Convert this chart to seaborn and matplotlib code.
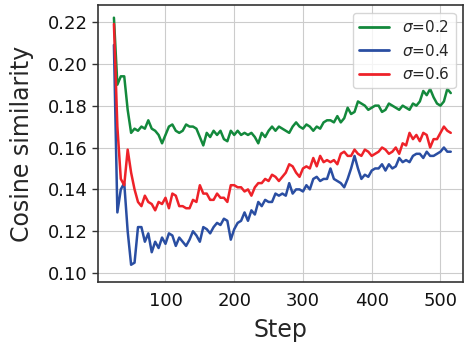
import numpy as np
import pandas as pd
import matplotlib
matplotlib.use("Agg")
import matplotlib.pyplot as plt
import seaborn as sns

steps = list(range(25, 520, 5))

sigma_02 = [0.222, 0.190, 0.194, 0.194, 0.178, 0.167, 0.169, 0.168, 0.170, 0.169, 0.173, 0.169, 0.168, 0.166, 0.162, 0.166, 0.170, 0.171, 0.168, 0.167, 0.168, 0.171, 0.170, 0.170, 0.169, 0.165,
            0.161, 0.167, 0.165, 0.168, 0.166, 0.168, 0.164, 0.163, 0.168, 0.166, 0.168, 0.166, 0.167, 0.166, 0.167, 0.165, 0.162, 0.167, 0.165, 0.168, 0.170, 0.168, 0.170, 0.169,
            0.168, 0.167, 0.170, 0.172, 0.170, 0.169, 0.171, 0.170, 0.168, 0.170, 0.169, 0.172, 0.173, 0.173, 0.172, 0.175, 0.172, 0.174, 0.179, 0.176, 0.177, 0.182, 0.181, 0.180,
            0.178, 0.179, 0.180, 0.180, 0.177, 0.178, 0.181, 0.180, 0.179, 0.178, 0.180, 0.179, 0.178, 0.181, 0.180, 0.182, 0.187, 0.185, 0.188, 0.184, 0.181, 0.180, 0.182, 0.188, 0.186]

sigma_04 = [0.209, 0.129, 0.140, 0.143, 0.120, 0.104, 0.105, 0.122, 0.122, 0.115, 0.119, 0.110, 0.115, 0.112, 0.117, 0.114, 0.119, 0.118, 0.113, 0.117, 0.115, 0.113, 0.116, 0.120, 0.118, 0.115,
            0.122, 0.121, 0.119, 0.122, 0.124, 0.123, 0.126, 0.125, 0.116, 0.121, 0.124, 0.125, 0.129, 0.125, 0.130, 0.128, 0.134, 0.132, 0.135, 0.134, 0.134, 0.138, 0.137, 0.138,
            0.137, 0.143, 0.138, 0.140, 0.140, 0.139, 0.142, 0.140, 0.145, 0.146, 0.144, 0.145, 0.145, 0.150, 0.145, 0.144, 0.143, 0.141, 0.145, 0.150, 0.156, 0.150, 0.145, 0.147,
            0.146, 0.149, 0.150, 0.150, 0.152, 0.149, 0.152, 0.150, 0.151, 0.155, 0.153, 0.154, 0.153, 0.156, 0.157, 0.157, 0.155, 0.158, 0.156, 0.156, 0.157, 0.158, 0.160, 0.158, 0.158]

sigma_06 = [0.219, 0.170, 0.145, 0.142, 0.159, 0.148, 0.140, 0.134, 0.132, 0.137, 0.134, 0.133, 0.130, 0.134, 0.133, 0.136, 0.131, 0.138, 0.137, 0.132, 0.132, 0.131, 0.131, 0.135, 0.134, 0.142,
            0.138, 0.138, 0.135, 0.135, 0.138, 0.136, 0.136, 0.134, 0.142, 0.142, 0.141, 0.141, 0.139, 0.140, 0.137, 0.141, 0.143, 0.143, 0.145, 0.144, 0.147, 0.146, 0.144, 0.146,
            0.148, 0.152, 0.151, 0.148, 0.146, 0.150, 0.151, 0.150, 0.155, 0.151, 0.156, 0.153, 0.154, 0.153, 0.154, 0.152, 0.157, 0.158, 0.156, 0.156, 0.159, 0.157, 0.156, 0.159,
            0.158, 0.156, 0.157, 0.158, 0.160, 0.159, 0.157, 0.158, 0.160, 0.157, 0.162, 0.161, 0.167, 0.164, 0.166, 0.163, 0.167, 0.166, 0.160, 0.164, 0.164, 0.167, 0.170, 0.168, 0.167]

labels = [r"$\sigma$=0.2", r"$\sigma$=0.4", r"$\sigma$=0.6"]
colors = ["#13893c", "#2a4ea2", "#ee2229"]

df = pd.concat([
    pd.DataFrame({"Step": steps, "value": vals, "sigma": lab})
    for vals, lab in zip([sigma_02, sigma_04, sigma_06], labels)
])

sns.set_style("whitegrid", {"grid.color": "#cccccc", "axes.edgecolor": "#333333"})
plt.rcParams['font.family'] = ['DejaVu Sans']

fig = plt.figure(figsize=(4.65, 3.42), dpi=100)
ax = fig.add_axes([0.211, 0.175, 0.785, 0.81])
sns.lineplot(data=df, x="Step", y="value", hue="sigma", palette=colors, linewidth=1.8, ax=ax)

ax.set_xlim(2, 533)
ax.set_ylim(0.0957, 0.228)
ax.set_xticks([100, 200, 300, 400, 500])
ax.set_yticks([0.10, 0.12, 0.14, 0.16, 0.18, 0.20, 0.22])
ax.set_yticklabels([f"{v:.2f}" for v in [0.10, 0.12, 0.14, 0.16, 0.18, 0.20, 0.22]])
ax.tick_params(axis="both", labelsize=13, colors="#111111")
ax.tick_params(axis="y", length=4, width=1, left=True, color="#333333")
ax.set_xlabel("Step", fontsize=17, labelpad=6)
ax.set_ylabel("Cosine similarity", fontsize=17, labelpad=10)
for s in ax.spines.values():
    s.set_linewidth(1.2)
leg = ax.legend(loc="upper right", fontsize=11, title=None, frameon=True, handlelength=2.0)
for line in leg.get_lines():
    line.set_linewidth(2)

fig.savefig("out.png", dpi=100)
